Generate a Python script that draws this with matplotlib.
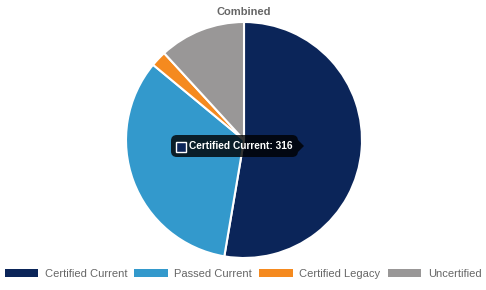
import matplotlib.pyplot as plt
from matplotlib.patches import Patch, Rectangle, Polygon, FancyBboxPatch

plt.rcParams['font.family'] = ['Liberation Sans', 'DejaVu Sans']

labels = ['Certified Current', 'Passed Current', 'Certified Legacy', 'Uncertified']
values = [316, 200, 13, 71]
colors = ['#0b2559', '#3399cc', '#f58a1f', '#999797']

W, H = 486, 290
fig = plt.figure(figsize=(W / 100, H / 100), dpi=100)

# pie axes: center ~(244,140) px, radius ~118 px
cx, cy, r = 244, 140, 118
ax = fig.add_axes([(cx - r) / W, (H - cy - r) / H, 2 * r / W, 2 * r / H])
ax.pie(values, colors=colors, startangle=90, counterclock=False,
       wedgeprops=dict(edgecolor='white', linewidth=1.5))
ax.set_xlim(-1, 1)
ax.set_ylim(-1, 1)
ax.set_aspect('equal')
ax.axis('off')

fig.text(cx / W, 1 - 12 / H, 'Combined', ha='center', va='center',
         fontsize=8, fontweight='bold', color='#666666')

# tooltip
def px(x, y):
    return x / W, 1 - y / H

tx0, ty0, tx1, ty1 = 171, 135, 298, 157
box = FancyBboxPatch(px(tx0, ty1), (tx1 - tx0) / W, (ty1 - ty0) / H,
                     boxstyle='round,pad=0,rounding_size=0.012',
                     transform=fig.transFigure, facecolor='black', alpha=0.8,
                     edgecolor='none', mutation_aspect=W / H)
fig.add_artist(box)
fig.add_artist(Polygon([px(298, 140), px(304, 146), px(298, 152)], closed=True,
                       transform=fig.transFigure, facecolor='black', alpha=0.8,
                       edgecolor='none'))
fig.add_artist(Rectangle(px(176, 152), 10 / W, 10 / H, transform=fig.transFigure,
                         facecolor=colors[0], edgecolor='white', linewidth=1))
fig.text(189 / W, 1 - 146 / H, f'{labels[0]}: {values[0]}', ha='left', va='center',
         fontsize=7.3, fontweight='bold', color='white')

handles = [Patch(facecolor=c, edgecolor='none') for c in colors]
fig.legend(handles, labels, loc='center', bbox_to_anchor=(0.5, 1 - 274 / H), ncol=4,
           frameon=False, fontsize=8, labelcolor='#666666', handlelength=3.0,
           handleheight=0.8, handletextpad=0.6, columnspacing=0.65)

fig.savefig('out.png', dpi=100)
